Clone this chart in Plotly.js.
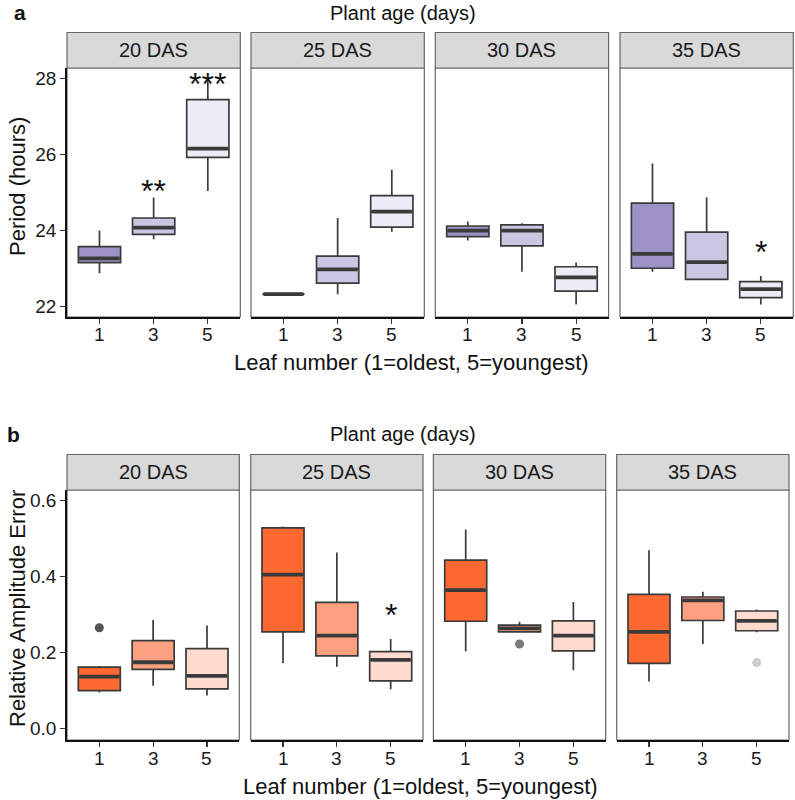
<!DOCTYPE html>
<html>
<head>
<meta charset="utf-8">
<script src="https://cdn.plot.ly/plotly-3.0.1.min.js"></script>
<style>html,body{margin:0;padding:0;background:#fff}#chart{width:795px;height:800px}</style>
</head>
<body>
<div id="chart"></div>
<script>
// ---------- DATA ----------
const panels = ["20 DAS", "25 DAS", "30 DAS", "35 DAS"];
const leaves = ["1", "3", "5"];

// Panel a: Period (hours) — [panel][leaf]
const periodLow    = [[22.88, 23.77, 25.04], [22.33, 22.33, 23.97], [23.74, 22.92, 22.06], [22.92, 22.72, 22.06]];
const periodQ1     = [[23.16, 23.90, 25.92], [22.33, 22.62, 24.09], [23.84, 23.60, 22.41], [23.01, 22.72, 22.24]];
const periodMedian = [[23.27, 24.08, 26.15], [22.33, 22.98, 24.50], [24.00, 24.00, 22.77], [23.39, 23.17, 22.46]];
const periodQ3     = [[23.58, 24.33, 27.44], [22.33, 23.33, 24.92], [24.12, 24.15, 23.05], [24.72, 23.96, 22.66]];
const periodHigh   = [[24.00, 24.87, 27.97], [22.33, 24.33, 25.60], [24.24, 24.19, 23.16], [25.76, 24.87, 22.81]];

// Panel b: Relative Amplitude Error — [panel][leaf]
const raeLow    = [[0.094, 0.112, 0.086], [0.171, 0.162, 0.103], [0.203, 0.254, 0.153], [0.123, 0.222, 0.253]];
const raeQ1     = [[0.099, 0.155, 0.104], [0.254, 0.191, 0.125], [0.282, 0.254, 0.204], [0.171, 0.284, 0.257]];
const raeMedian = [[0.136, 0.174, 0.138], [0.405, 0.244, 0.180], [0.364, 0.263, 0.244], [0.254, 0.337, 0.283]];
const raeQ3     = [[0.161, 0.231, 0.210], [0.528, 0.332, 0.202], [0.443, 0.272, 0.283], [0.353, 0.346, 0.309]];
const raeHigh   = [[0.164, 0.285, 0.271], [0.532, 0.463, 0.235], [0.524, 0.281, 0.333], [0.469, 0.360, 0.313]];

// Outliers (panel b)
const outPanel = [0, 2, 3];
const outLeaf  = [0, 1, 2];
const outValue = [0.265, 0.222, 0.173];
const outColor = ["#555555", "#7a7a7a", "#cccccc"];

// Significance labels
const sigRow   = [0, 0, 0, 1];
const sigPanel = [0, 0, 3, 1];
const sigLeaf  = [1, 2, 2, 2];
const sigText  = ["**", "***", "*", "*"];
const sigValue = [25.23, 28.03, 23.62, 0.318];

const periodTicks = [22, 24, 26, 28];
const raeTicks = [0, 0.2, 0.4, 0.6];
const raeTickText = ["0.0", "0.2", "0.4", "0.6"];

// ---------- STYLE ----------
const W = 795, H = 800;
const FONT = "Liberation Sans, Arial, sans-serif";
const purple = ["#9c92c6", "#cbc6e2", "#edebf5"];
const orange = ["#fd6931", "#fca07f", "#fedacf"];
const edge = "#3a3a3a";
const rows = [
  {top: 68, bottom: 317, stripTop: 32.5, range: [21.73, 28.27], ticks: periodTicks, tickText: periodTicks.map(String),
   x0s: [67, 251, 435.3, 620], pw: 173.3,
   low: periodLow, q1: periodQ1, med: periodMedian, q3: periodQ3, high: periodHigh, colors: purple,
   ytitle: "Period (hours)", ytitleY: 187, letter: "a", letterX: 12, letterY: 12, supX: 403, supY: 12.5,
   xtitleX: 411, xtitleY: 362},
  {top: 490, bottom: 740, stripTop: 454.5, range: [-0.031, 0.628], ticks: raeTicks, tickText: raeTickText,
   x0s: [67, 250.7, 433.4, 616.7], pw: 172.3,
   low: raeLow, q1: raeQ1, med: raeMedian, q3: raeQ3, high: raeHigh, colors: orange,
   ytitle: "Relative Amplitude Error", ytitleY: 609, letter: "b", letterX: 5, letterY: 434.5, supX: 403, supY: 434,
   xtitleX: 420, xtitleY: 786}
];
const BOXW = 0.78;
const TICKLAB_GAP = 18;

const traces = [], shapes = [], annotations = [];
const layout = {
  width: W, height: H, margin: {l: 0, r: 0, t: 0, b: 0},
  paper_bgcolor: "#fff", plot_bgcolor: "#fff", showlegend: false,
  font: {family: FONT, color: "#1a1a1a"}
};

rows.forEach((row, r) => {
  panels.forEach((pname, p) => {
    const k = r * 4 + p + 1;
    const xa = "x" + (k === 1 ? "" : k), ya = "y" + (k === 1 ? "" : k);
    const xkey = "xaxis" + (k === 1 ? "" : k), ykey = "yaxis" + (k === 1 ? "" : k);
    const x0 = row.x0s[p] / W, x1 = (row.x0s[p] + row.pw) / W;
    layout[xkey] = {
      domain: [x0, x1], anchor: ya, range: [0.4, 3.6], fixedrange: true,
      tickvals: [1, 2, 3], ticktext: leaves, ticks: "outside", ticklen: 5, tickwidth: 1.2, tickcolor: "#333",
      showline: true, linecolor: "#111", linewidth: 1.8, showgrid: false, zeroline: false,
      showticklabels: false
    };
    layout[ykey] = {
      domain: [1 - row.bottom / H, 1 - row.top / H], anchor: xa, range: row.range, fixedrange: true,
      tickvals: row.ticks, ticktext: row.tickText, showgrid: false, zeroline: false,
      ticks: p === 0 ? "outside" : "", ticklen: 5, tickwidth: 1.2, tickcolor: "#333",
      showticklabels: p === 0, showline: p === 0, linecolor: "#111", linewidth: 1.8,
      tickfont: {family: FONT, size: 19, color: "#1a1a1a"}
    };
    // x tick labels
    leaves.forEach((lf, i) => {
      annotations.push({xref: xa, yref: "paper", x: i + 1, y: 1 - (row.bottom + TICKLAB_GAP) / H,
        text: lf, showarrow: false, xanchor: "center", yanchor: "middle",
        font: {family: FONT, size: 19, color: "#1a1a1a"}});
    });
    // panel border
    shapes.push({type: "rect", xref: "paper", yref: "paper", x0: x0, x1: x1,
      y0: 1 - row.bottom / H, y1: 1 - row.top / H, line: {color: "#666", width: 1.2}, layer: "below"});
    // strip
    shapes.push({type: "rect", xref: "paper", yref: "paper", x0: x0, x1: x1,
      y0: 1 - row.top / H, y1: 1 - row.stripTop / H, fillcolor: "#d9d9d9", line: {color: "#666", width: 1.2}});
    annotations.push({xref: "paper", yref: "paper", x: (x0 + x1) / 2, y: 1 - (row.top + row.stripTop) / 2 / H,
      text: pname, showarrow: false, xanchor: "center", yanchor: "middle",
      font: {family: FONT, size: 20, color: "#1a1a1a"}});

    leaves.forEach((lf, i) => {
      traces.push({
        type: "box", xaxis: xa, yaxis: ya, x: [i + 1],
        q1: [row.q1[p][i]], median: [row.med[p][i]], q3: [row.q3[p][i]],
        lowerfence: [row.low[p][i]], upperfence: [row.high[p][i]],
        width: BOXW, whiskerwidth: 0, boxpoints: false,
        fillcolor: row.colors[i], line: {color: edge, width: 1.7}, hoverinfo: "skip"
      });
      // thicker median line (ggplot style)
      traces.push({
        type: "scatter", mode: "lines", xaxis: xa, yaxis: ya,
        x: [i + 1 - BOXW / 2 + 0.02, i + 1 + BOXW / 2 - 0.02], y: [row.med[p][i], row.med[p][i]],
        line: {color: edge, width: 3.8}, hoverinfo: "skip"
      });
    });
  });

  // row texts
  annotations.push({xref: "paper", yref: "paper", x: row.letterX / W, y: 1 - row.letterY / H, text: "<b>" + row.letter + "</b>",
    showarrow: false, xanchor: "left", yanchor: "middle", font: {family: FONT, size: 21, color: "#111"}});
  annotations.push({xref: "paper", yref: "paper", x: row.supX / W, y: 1 - row.supY / H, text: "Plant age (days)",
    showarrow: false, xanchor: "center", yanchor: "middle", font: {family: FONT, size: 20, color: "#111"}});
  annotations.push({xref: "paper", yref: "paper", x: row.xtitleX / W, y: 1 - row.xtitleY / H, text: "Leaf number (1=oldest, 5=youngest)",
    showarrow: false, xanchor: "center", yanchor: "middle", font: {family: FONT, size: 22, color: "#111"}});
  annotations.push({xref: "paper", yref: "paper", x: 17 / W, y: 1 - row.ytitleY / H, text: row.ytitle,
    textangle: -90, showarrow: false, xanchor: "center", yanchor: "middle", font: {family: FONT, size: 22, color: "#111"}});
});

// outliers
outPanel.forEach((p, j) => {
  const k = 4 + p + 1;
  traces.push({type: "scatter", mode: "markers", xaxis: "x" + k, yaxis: "y" + k,
    x: [outLeaf[j] + 1], y: [outValue[j]],
    marker: {size: 9, color: outColor[j], line: {width: 0}}, hoverinfo: "skip"});
});

// significance stars
sigRow.forEach((r, j) => {
  const k = r * 4 + sigPanel[j] + 1;
  annotations.push({xref: "x" + (k === 1 ? "" : k), yref: "y" + (k === 1 ? "" : k),
    x: sigLeaf[j] + 1, y: sigValue[j], text: sigText[j], showarrow: false,
    xanchor: "center", yanchor: "middle", yshift: -7, font: {family: FONT, size: 32, color: "#111"}});
});

layout.shapes = shapes;
layout.annotations = annotations;
Plotly.newPlot("chart", traces, layout, {staticPlot: true, displayModeBar: false});
</script>
</body>
</html>
